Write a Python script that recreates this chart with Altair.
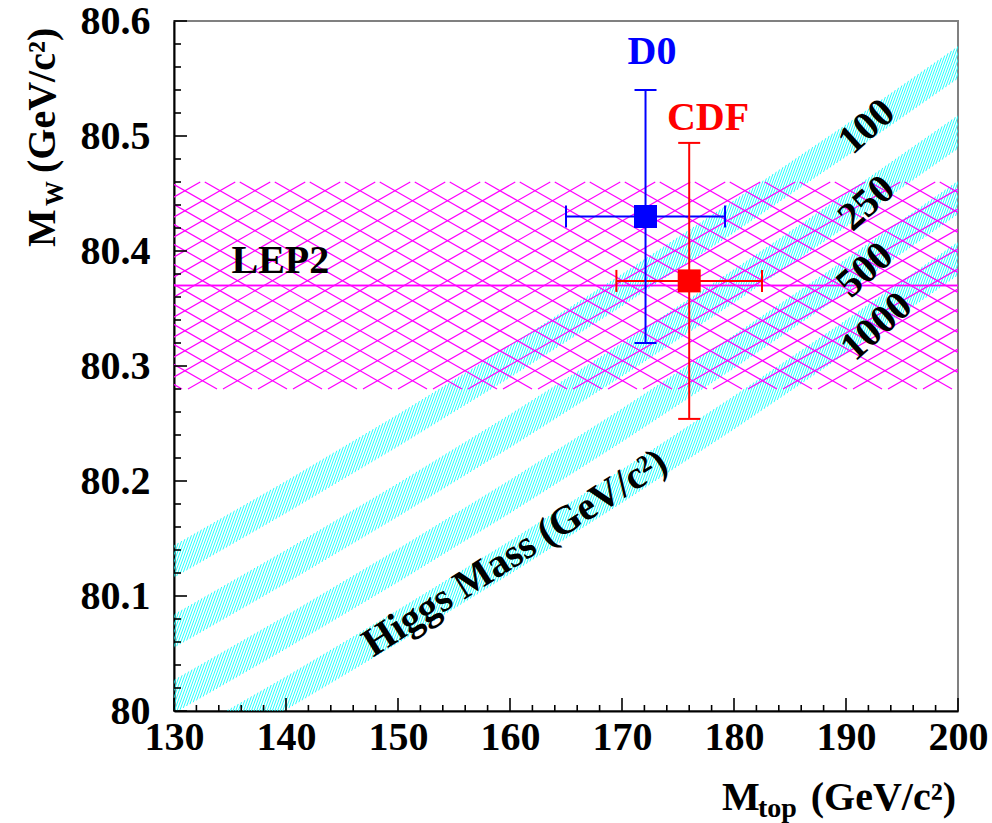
import altair as alt
import pandas as pd
import numpy as np

# ---------------- data ----------------
grid_mtop = [130, 140, 150, 160, 170, 180, 190, 200]
higgs_labels = ["100", "250", "500", "1000"]
band_low = {
    "100":  [80.116, 80.172, 80.230, 80.290, 80.352, 80.416, 80.482, 80.550],
    "250":  [80.055, 80.111, 80.169, 80.229, 80.291, 80.355, 80.421, 80.489],
    "500":  [79.998, 80.054, 80.112, 80.172, 80.234, 80.298, 80.364, 80.432],
    "1000": [79.945, 80.001, 80.059, 80.119, 80.181, 80.245, 80.311, 80.379],
}
band_high = {
    "100":  [80.144, 80.200, 80.258, 80.318, 80.380, 80.444, 80.510, 80.578],
    "250":  [80.084, 80.140, 80.198, 80.258, 80.320, 80.384, 80.450, 80.518],
    "500":  [80.027, 80.083, 80.141, 80.201, 80.263, 80.327, 80.393, 80.461],
    "1000": [79.974, 80.030, 80.088, 80.148, 80.210, 80.274, 80.340, 80.408],
}

experiments = ["D0", "CDF"]
exp_mtop = [172.1, 176.0]
exp_mtop_err = [7.1, 6.5]
exp_mw = [80.430, 80.374]
exp_mw_err = [0.110, 0.120]
exp_color = ["#0000ff", "#ff0000"]

lep2_mw = 80.370
lep2_err = 0.090

x_major = [130, 140, 150, 160, 170, 180, 190, 200]
x_minor = [v for v in range(130, 201, 2) if v % 10 != 0]
y_major = [80.0, 80.1, 80.2, 80.3, 80.4, 80.5, 80.6]
y_minor = [round(80.0 + 0.02 * i, 2) for i in range(31) if i % 5 != 0]

# ---------------- layout ----------------
W, H = 784, 690
X0, X1 = 130.0, 200.0
Y0, Y1 = 80.0, 80.6
FONT = "Liberation Serif"
px_x = W / (X1 - X0)
px_y = H / (Y1 - Y0)

xs = alt.Scale(domain=[X0, X1], nice=False, zero=False)
ys = alt.Scale(domain=[Y0, Y1], nice=False, zero=False)


def X(field):
    return alt.X(field, scale=xs, title=None)


def Y(field):
    return alt.Y(field, scale=ys, title=None)


def extrap(x, xv, yv):
    xv = np.asarray(xv, float)
    yv = np.asarray(yv, float)
    if x <= xv[0]:
        return yv[0] + (yv[1] - yv[0]) / (xv[1] - xv[0]) * (x - xv[0])
    if x >= xv[-1]:
        return yv[-1] + (yv[-1] - yv[-2]) / (xv[-1] - xv[-2]) * (x - xv[-1])
    return float(np.interp(x, xv, yv))


# cyan hatch lines inside each Higgs band (fill pattern)
t = 2.75
step = 3.3 / px_x
cyan_rows = []
for name in higgs_labels:
    lo, hi = band_low[name], band_high[name]
    x0 = X0 - 3.0
    while x0 <= X1 + 0.5:
        ylo = extrap(x0, grid_mtop, lo)
        s = (extrap(x0, grid_mtop, hi) - ylo) * px_y / t
        for _ in range(8):
            s = (extrap(x0 + s / px_x, grid_mtop, hi) - ylo) * px_y / t
        cyan_rows.append(dict(x=x0, y=ylo, x2=x0 + s / px_x, y2=ylo + t * s / px_y))
        x0 += step
cyan_df = pd.DataFrame(cyan_rows)

# magenta cross hatch of the LEP2 band (fill pattern)
lep_lo, lep_hi = lep2_mw - lep2_err, lep2_mw + lep2_err
Hh = (lep_hi - lep_lo) * px_y
d = 35.0
sl = 20.0 / 35.0
cross_px, cross_drop = 11.0, 8.7
cA = cross_px - (Hh - cross_drop) / sl
cB = cross_px - cross_drop / sl
mag_rows = []
for k in range(-60, 80):
    c = cA + k * d
    if c + Hh / sl >= -5 and c <= W + 5:
        mag_rows.append(dict(x=X0 + c / px_x, y=lep_lo, x2=X0 + (c + Hh / sl) / px_x, y2=lep_hi))
    c = cB + k * d
    if c + Hh / sl >= -5 and c <= W + 5:
        mag_rows.append(dict(x=X0 + c / px_x, y=lep_hi, x2=X0 + (c + Hh / sl) / px_x, y2=lep_lo))
mag_df = pd.DataFrame(mag_rows)


def seg(df, color, width):
    return alt.Chart(df).mark_rule(color=color, strokeWidth=width, clip=True).encode(
        x=X("x:Q"), y=Y("y:Q"), x2="x2:Q", y2="y2:Q")


cyan_layer = seg(cyan_df, "#00ffff", 0.85)
mag_layer = seg(mag_df, "#ff00ff", 1.25)

# base layer with axes + LEP2 central line
lep_df = pd.DataFrame({"x": [X0], "x2": [X1], "mw": [lep2_mw]})
lep_line = alt.Chart(lep_df).mark_rule(color="#ff00ff", strokeWidth=1.6).encode(
    x=alt.X("x:Q", scale=xs, title=None,
            axis=alt.Axis(values=x_major, format="d", labelPadding=6,
                          labelFlush=False, labelOverlap=False)),
    x2="x2:Q",
    y=alt.Y("mw:Q", scale=ys, title=None,
            axis=alt.Axis(values=y_major, format=".1~f", labelPadding=24,
                          labelFlush=False, labelOverlap=False)),
)


# ticks (inside)
def xticks(vals, length):
    return alt.Chart(pd.DataFrame({"v": vals})).mark_rule(color="black", strokeWidth=1.6).encode(
        x=X("v:Q"), y=alt.value(H), y2=alt.value(H - length))


def yticks(vals, length):
    return alt.Chart(pd.DataFrame({"v": vals})).mark_rule(color="black", strokeWidth=1.6).encode(
        y=Y("v:Q"), x=alt.value(0), x2=alt.value(length))


ticks = xticks(x_major, 13) + xticks(x_minor, 6) + yticks(y_major, 13) + yticks(y_minor, 7)

# measurements
exp_df = pd.DataFrame({
    "name": experiments, "mtop": exp_mtop, "mtop_err": exp_mtop_err,
    "mw": exp_mw, "mw_err": exp_mw_err, "color": exp_color,
})
base = alt.Chart(exp_df).transform_calculate(
    xl="datum.mtop - datum.mtop_err", xh="datum.mtop + datum.mtop_err",
    yl="datum.mw - datum.mw_err", yh="datum.mw + datum.mw_err",
)
col = alt.Color("color:N", scale=None)
hbar = base.mark_rule(strokeWidth=2).encode(x=X("xl:Q"), x2="xh:Q", y=Y("mw:Q"), color=col)
vbar = base.mark_rule(strokeWidth=2).encode(y=Y("yl:Q"), y2="yh:Q", x=X("mtop:Q"), color=col)
cap_top = base.mark_rule(strokeWidth=2, xOffset=-11, x2Offset=11).encode(
    x=X("mtop:Q"), x2="mtop:Q", y=Y("yh:Q"), color=col)
cap_bot = base.mark_rule(strokeWidth=2, xOffset=-11, x2Offset=11).encode(
    x=X("mtop:Q"), x2="mtop:Q", y=Y("yl:Q"), color=col)
cap_l = base.mark_rule(strokeWidth=2, yOffset=-11, y2Offset=11).encode(
    y=Y("mw:Q"), y2="mw:Q", x=X("xl:Q"), color=col)
cap_r = base.mark_rule(strokeWidth=2, yOffset=-11, y2Offset=11).encode(
    y=Y("mw:Q"), y2="mw:Q", x=X("xh:Q"), color=col)
squares = base.mark_square(size=529, opacity=1, filled=True).encode(
    x=X("mtop:Q"), y=Y("mw:Q"), color=col)


# annotations
def label(text, x, y, color="black", angle=0, size=40):
    return alt.Chart(pd.DataFrame({"t": [text], "x": [x], "y": [y]})).mark_text(
        font=FONT, fontWeight="bold", fontSize=size, color=color, angle=angle,
        align="center", baseline="middle",
    ).encode(text="t:N", x=X("x:Q"), y=Y("y:Q"))


annots = (
    label("D0", 172.68, 80.573, "#0000ff")
    + label("CDF", 177.68, 80.516, "#ff0000")
    + label("LEP2", 139.5, 80.391)
    + label("100", 191.85, 80.508, angle=318)
    + label("250", 191.85, 80.4415, angle=318)
    + label("500", 191.7, 80.3835, angle=318)
    + label("1000", 192.74, 80.3342, angle=318)
    + label("Higgs Mass (GeV/c\u00b2)", 160.45, 80.1374, angle=327.6)
)


# axis titles made of pieces (subscripts)
def ptext(text, x, y, size=40, angle=0, align="left"):
    return alt.Chart(pd.DataFrame({"t": [text]})).mark_text(
        font=FONT, fontWeight="bold", fontSize=size, color="black", angle=angle,
        align=align, baseline="alphabetic",
    ).encode(text="t:N", x=alt.value(x), y=alt.value(y))


titles = (
    ptext("M", 548, 789)
    + ptext("top", 584, 796, size=28)
    + ptext("(GeV/c\u00b2)", 782, 789, align="right")
    + ptext("M", -119, 226, angle=270)
    + ptext("W", -111, 185, size=25, angle=270)
    + ptext("(GeV/c\u00b2)", -119, 152, angle=270)
)

chart = alt.layer(
    lep_line, cyan_layer, mag_layer, lep_line, ticks,
    hbar, vbar, cap_top, cap_bot, cap_l, cap_r, squares,
    annots, titles,
).properties(
    width=W, height=H,
    autosize=alt.AutoSizeParams(type="none"),
    padding={"left": 174, "top": 21, "right": 34, "bottom": 112},
    background="white",
).configure_view(
    stroke="#808080", strokeWidth=2,
).configure_axis(
    labelFont=FONT, labelFontWeight="bold", labelFontSize=40, labelColor="black",
    domainColor="black", domainWidth=2, ticks=False, grid=False, title=None,
)

chart.save("out.html", embed_options={"renderer": "svg", "actions": False})
